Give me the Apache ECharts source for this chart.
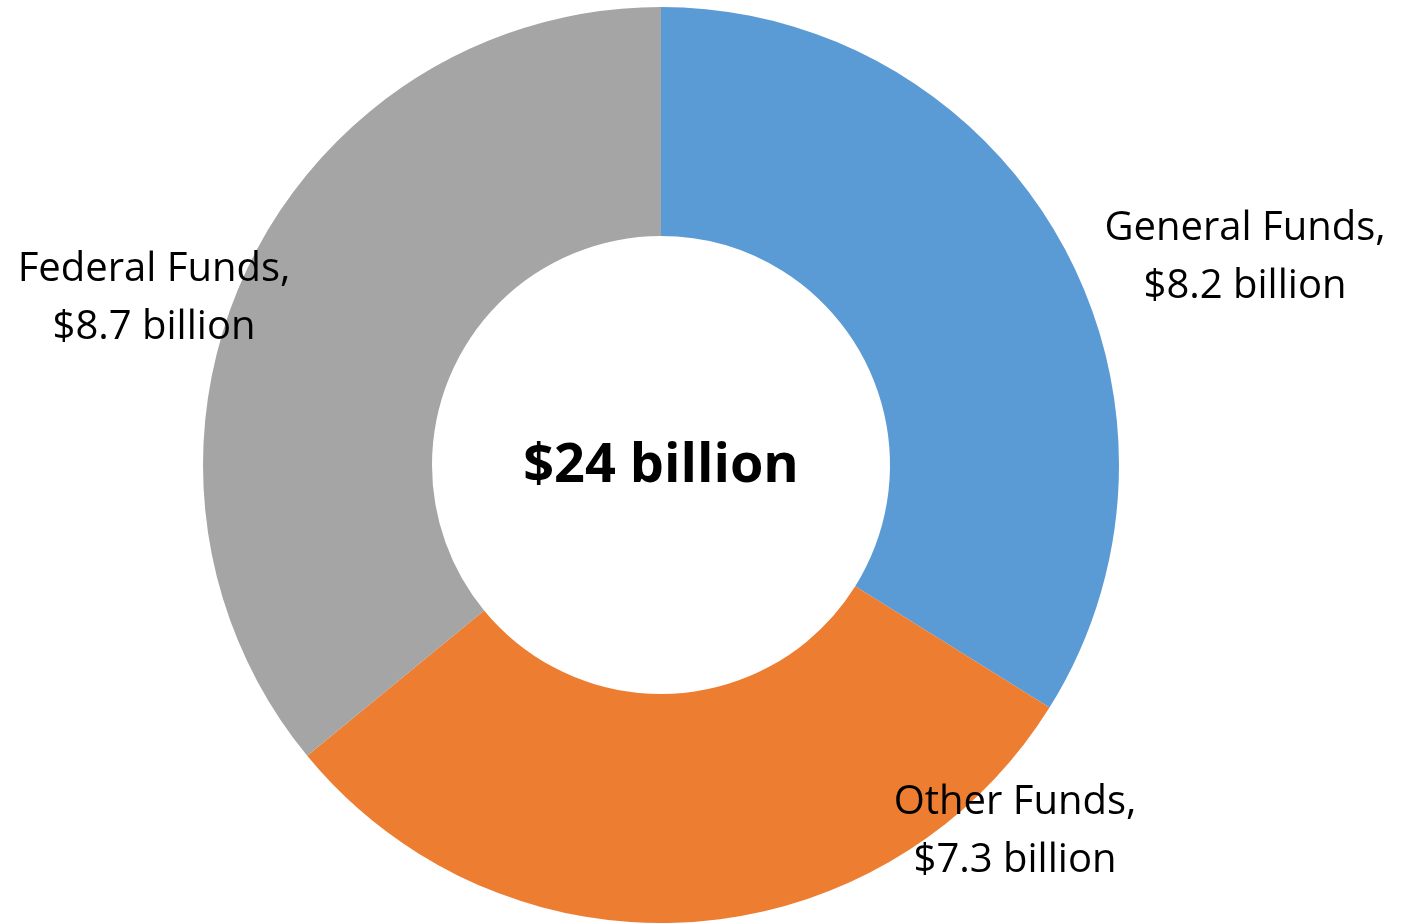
<!DOCTYPE html>
<html>
<head>
<meta charset="utf-8">
<script src="https://cdn.jsdelivr.net/npm/echarts@6/dist/echarts.min.js"></script>
<style>
html,body{margin:0;padding:0;background:#fff;}
#chart{width:1404px;height:923px;}
</style>
</head>
<body>
<div id="chart"></div>
<script>
const categories = ['General Funds', 'Other Funds', 'Federal Funds'];
const values = [8.2, 7.3, 8.7];
const colors = ['#5B9BD5', '#ED7D31', '#A5A5A5'];
const totalLabel = '$24 billion';

const labelPos = [[1245, 258], [1015, 832], [154, 299]];

const chart = echarts.init(document.getElementById('chart'));
chart.setOption({
  animation: false,
  series: [{
    type: 'pie',
    center: [661, 465],
    radius: [229, 458],
    startAngle: 90,
    clockwise: true,
    avoidLabelOverlap: false,
    itemStyle: { borderWidth: 0 },
    label: {
      show: true,
      position: 'outside',
      formatter: p => p.name + ',\n$' + p.value + ' billion',
      fontFamily: 'Open Sans',
      fontSize: 40,
      lineHeight: 58,
      color: '#000',
      align: 'center'
    },
    labelLine: { show: false },
    labelLayout: p => ({
      x: labelPos[p.dataIndex][0],
      y: labelPos[p.dataIndex][1],
      align: 'center',
      verticalAlign: 'middle'
    }),
    data: categories.map((c, i) => ({ name: c, value: values[i], itemStyle: { color: colors[i] } }))
  }],
  graphic: [{
    type: 'text',
    x: 661,
    y: 467,
    style: {
      text: totalLabel,
      align: 'center', verticalAlign: 'middle',
      font: 'bold 54px "Open Sans"',
      fill: '#000'
    }
  }]
});
</script>
</body>
</html>
